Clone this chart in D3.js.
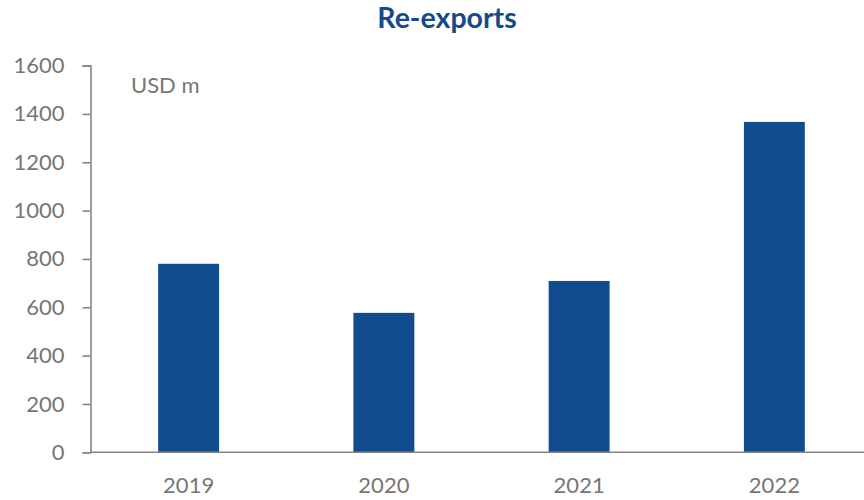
<!DOCTYPE html>
<html>
<head>
<meta charset="utf-8">
<script src="https://cdn.jsdelivr.net/npm/d3@7"></script>
<style>
  html, body { margin: 0; padding: 0; background: #fff; }
  svg { display: block; }
  text { font-family: Lato, "Open Sans", sans-serif; }
</style>
</head>
<body>
<svg id="chart" width="864" height="500"></svg>
<script>
// Re-exports by year, USD millions
const years = ["2019", "2020", "2021", "2022"];
const reExports = [780, 577, 709, 1367];
const yTicks = [0, 200, 400, 600, 800, 1000, 1200, 1400, 1600];

const svg = d3.select("#chart");
const barColor = "#114c8f";
const axisColor = "#858585";
const textColor = "#767676";

const x = d3.scaleBand()
  .domain(years)
  .range([91, 872])
  .paddingInner(0.688)
  .paddingOuter(0.344);

const y = d3.scaleLinear()
  .domain([0, 1600])
  .range([452.3, 65.6]);

// Title
svg.append("text")
  .attr("x", 447)
  .attr("y", 28)
  .attr("text-anchor", "middle")
  .attr("font-size", 28.5)
  .attr("font-weight", "bold")
  .attr("fill", "#174a8b")
  .text("Re-exports");

// Bars
svg.append("g")
  .selectAll("rect")
  .data(years.map((yr, i) => ({ yr, v: reExports[i] })))
  .join("rect")
  .attr("x", d => x(d.yr))
  .attr("width", x.bandwidth())
  .attr("y", d => y(d.v))
  .attr("height", d => y(0) - y(d.v))
  .attr("fill", barColor);

// Y axis
const yAxis = svg.append("g")
  .attr("transform", "translate(90.5,0)")
  .call(d3.axisLeft(y).tickValues(yTicks).tickSize(8).tickPadding(18).tickFormat(d3.format("d")));
yAxis.selectAll("path, line").attr("stroke", axisColor).attr("stroke-width", 1.6);
yAxis.selectAll("text")
  .attr("fill", textColor)
  .attr("font-size", 22)
  .attr("font-family", "Lato, 'Open Sans', sans-serif");

// X axis
const xAxis = svg.append("g")
  .attr("transform", `translate(0,${y(0)})`)
  .call(d3.axisBottom(x).tickSize(0).tickPadding(25));
xAxis.select(".domain").attr("stroke", axisColor).attr("stroke-width", 1.6)
  .attr("d", `M90,0H864`);
xAxis.selectAll("text")
  .attr("fill", textColor)
  .attr("font-size", 22)
  .attr("font-family", "Lato, 'Open Sans', sans-serif");

// Unit label
svg.append("text")
  .attr("x", 131)
  .attr("y", 93)
  .attr("font-size", 22)
  .attr("fill", textColor)
  .text("USD m");
</script>
</body>
</html>
